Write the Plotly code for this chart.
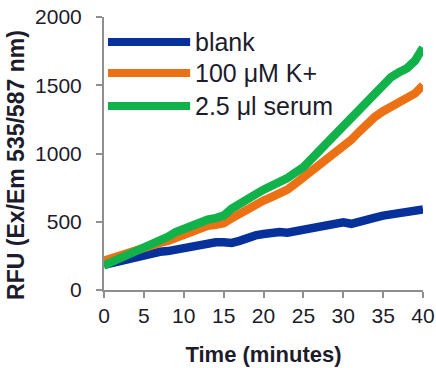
import plotly.graph_objects as go

time_min = list(range(0, 41))

blank = [185, 200, 215, 232, 245, 256, 272, 280, 285, 295, 305, 320, 340, 345, 350,
         350, 345, 360, 385, 400, 410, 420, 425, 420, 430, 440, 450, 460, 468, 485,
         495, 485, 505, 515, 530, 545, 555, 562, 570, 578, 590]
k_plus = [215, 235, 255, 275, 295, 318, 340, 345, 360, 385, 405, 430, 455, 470, 478,
          490, 525, 560, 590, 620, 655, 680, 705, 735, 780, 825, 860, 905, 950, 1000,
          1050, 1100, 1160, 1220, 1270, 1310, 1345, 1385, 1420, 1440, 1500]
serum = [180, 205, 230, 255, 280, 305, 330, 355, 390, 425, 450, 475, 495, 515, 527,
         545, 595, 625, 660, 700, 735, 760, 780, 820, 860, 900, 960, 1020, 1080, 1140,
         1200, 1270, 1340, 1400, 1460, 1510, 1560, 1595, 1625, 1680, 1775]

series_names = ["blank", "100 μM K+", "2.5 μl serum"]
series_colors = ["#06309a", "#ec7014", "#12b24b"]
series_values = [blank, k_plus, serum]

x_ticks = [0, 5, 10, 15, 20, 25, 30, 35, 40]
y_ticks = [0, 500, 1000, 1500, 2000]

FONT = "Liberation Sans, Arial, sans-serif"
TXT = "#1c1c2c"
AX = "#8f8f8f"

fig = go.Figure()
for name, color, vals in zip(series_names, series_colors, series_values):
    fig.add_trace(go.Scatter(x=time_min, y=vals, mode="lines", name=name,
                             line=dict(color=color, width=8.5), showlegend=False))

# manual legend (long line samples)
leg_y = [0.908, 0.795, 0.674]
for name, color, yy in zip(series_names, series_colors, leg_y):
    fig.add_shape(type="line", xref="paper", yref="paper", x0=0.0125, x1=0.27,
                  y0=yy, y1=yy, line=dict(color=color, width=8))
    fig.add_annotation(xref="paper", yref="paper", x=0.279, y=yy, text=name,
                       showarrow=False, xanchor="left", yanchor="middle",
                       font=dict(family=FONT, size=25, color=TXT))

# y-axis title placed as rotated annotation (sits slightly below plot centre)
fig.add_annotation(xref="paper", yref="paper", x=-0.276, y=0.458,
                   text="<b>RFU (Ex/Em 535/587 nm)</b>", textangle=-90,
                   showarrow=False, xanchor="center", yanchor="middle",
                   font=dict(family=FONT, size=23, color=TXT))

fig.update_layout(
    width=436, height=368,
    margin=dict(l=104, r=13, t=17, b=78),
    paper_bgcolor="white", plot_bgcolor="white",
    font=dict(family=FONT, size=21, color=TXT),
)
fig.update_xaxes(range=[0, 40], tickvals=x_ticks, ticks="outside", ticklen=6,
                 tickcolor=AX, tickwidth=2, showline=True, linecolor=AX, linewidth=2,
                 showgrid=False, zeroline=False, automargin=False,
                 tickfont=dict(family=FONT, size=21, color=TXT),
                 title=dict(text="<b>Time (minutes)</b>", font=dict(family=FONT, size=22, color=TXT), standoff=20))
fig.update_yaxes(range=[0, 2000], tickvals=y_ticks, ticks="outside", ticklen=6,
                 tickcolor=AX, tickwidth=2, showline=True, linecolor=AX, linewidth=2,
                 showgrid=False, zeroline=False, automargin=False,
                 ticklabelstandoff=10,
                 tickfont=dict(family=FONT, size=21, color=TXT))

fig.write_html("out.html")
